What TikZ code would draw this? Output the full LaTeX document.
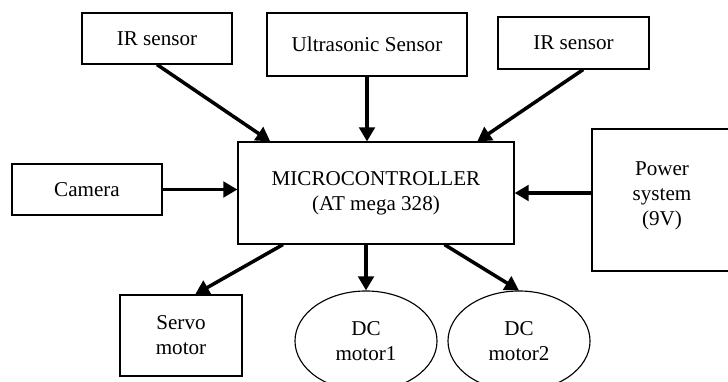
\documentclass[tikz,border=0pt]{standalone}
\usepackage{fontspec}
\setmainfont{Liberation Serif}
\usepackage{tikz}
\usetikzlibrary{arrows.meta,positioning,shapes.geometric}

\begin{document}
\begin{tikzpicture}[
	x=0.025cm, y=-0.025cm,
	font=\fontsize{15}{17.8}\selectfont,
	% Node styles
	block/.style={
		rectangle, draw=black, line width=0.8pt,
		align=center, inner sep=2pt
	},
	motor/.style={
		ellipse, draw=black, line width=0.8pt,
		align=center, inner sep=0pt,
		minimum width=3.55cm, minimum height=2.5cm
	},
	arr/.style={-{Triangle[length=10pt,width=11pt]}, line width=2.5pt, black}
	]
	
	% fixed frame
	\useasboundingbox (0,0) rectangle (728,381);
	
	%% ─── CENTRE: MICROCONTROLLER ──────────────────────────────────────────
	\node[block, minimum width=6.9cm, minimum height=2.55cm] (mcu) at (376,193)
	{MICROCONTROLLER\\(AT mega 328)};
	
	%% ─── INPUTS ───────────────────────────────────────────────────────────
	\node[block, minimum width=3.75cm, minimum height=1.275cm] (irleft) at (157,38.5) {IR sensor};
	\node[block, minimum width=5cm, minimum height=1.575cm] (ultra) at (367,44.5) {Ultrasonic Sensor};
	\node[block, minimum width=3.775cm, minimum height=1.3cm] (irright) at (573.5,43) {IR sensor};
	\node[block, minimum width=3.75cm, minimum height=1.275cm] (camera) at (87,189.5) {Camera};
	\node[block, minimum width=3.5cm, minimum height=3.55cm] (power) at (662,200)
	{Power\\system\\(9V)\\[-9pt]};
	
	\draw[arr] (irleft.south) -- (mcu.154);
	\draw[arr] (ultra.south) -- (ultra.south |- mcu.north);
	\draw[arr] (irright.-70) -- (mcu.27);
	\draw[arr] (camera.east) -- (camera.east -| mcu.west);
	\draw[arr] (mcu.east -| power.west) -- (mcu.east);
	
	%% ─── OUTPUTS ──────────────────────────────────────────────────────────
	\node[block, minimum width=3.05cm, minimum height=2.025cm] (servo) at (181,335.5) {Servo\\motor};
	\node[motor] (dcone) at (366,341) {DC\\motor1};
	\node[motor] (dctwo) at (519,341) {DC\\motor2};
	
	\draw[arr] (mcu.-151) -- (servo.71);
	\draw[arr] (dcone.north |- mcu.south) -- (dcone.north);
	\draw[arr] (mcu.-37) -- (dctwo.north);
	
\end{tikzpicture}
\end{document}
